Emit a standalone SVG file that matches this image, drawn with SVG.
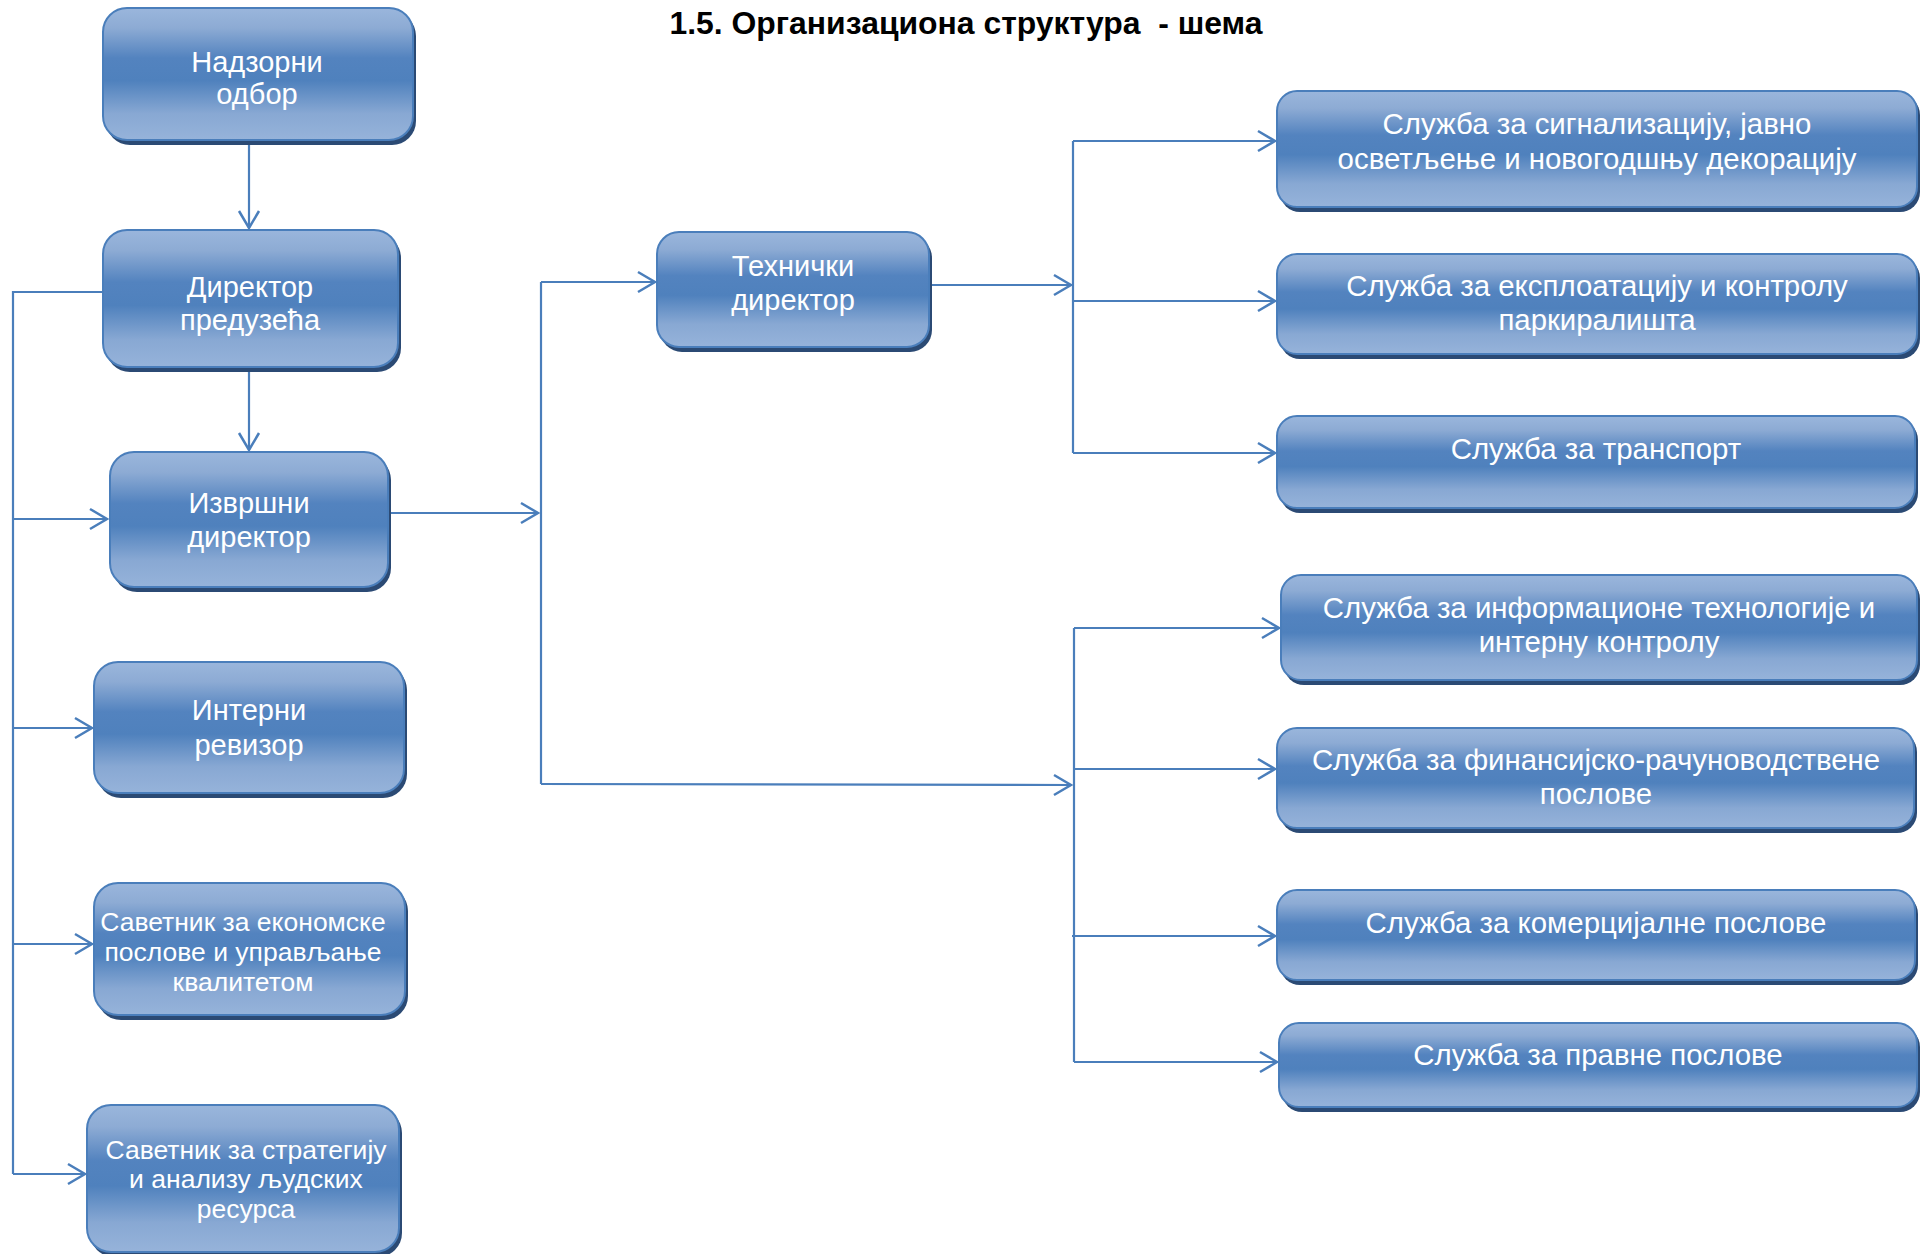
<svg xmlns="http://www.w3.org/2000/svg" width="1921" height="1254" viewBox="0 0 1921 1254">
<defs>
<linearGradient id="g" x1="0" y1="0" x2="0" y2="1">
<stop offset="0" stop-color="#9ab6dc"/>
<stop offset="0.15" stop-color="#8dabd4"/>
<stop offset="0.38" stop-color="#5383bf"/>
<stop offset="0.55" stop-color="#4f81bd"/>
<stop offset="0.8" stop-color="#88a8d3"/>
<stop offset="1" stop-color="#96b3da"/>
</linearGradient>
<marker id="arr" viewBox="-20 -12 22 24" refX="0" refY="0" markerWidth="22" markerHeight="24" markerUnits="userSpaceOnUse" orient="auto">
<path d="M-17,-10 L0,0 L-17,10" fill="none" stroke="#4a7ebb" stroke-width="2.5"/>
</marker>
<style>
.sh{fill:#2b4a74}
.bx{fill:url(#g);stroke:#4a7ebb;stroke-width:2}
.t{font-family:"Liberation Sans",Arial,sans-serif;fill:#ffffff;text-anchor:middle}
.l{font-size:29px}
.s{font-size:26.5px}
.r{font-size:29.4px}
.ttl{font-family:"Liberation Sans",Arial,sans-serif;font-weight:bold;font-size:31px;fill:#000;text-anchor:middle;white-space:pre}
.c{fill:none;stroke:#4a7ebb;stroke-width:2.2}
.a{marker-end:url(#arr)}
</style>
</defs>
<rect width="1921" height="1254" fill="#ffffff"/>
<text id="title" class="ttl" x="966" y="34" textLength="593" lengthAdjust="spacingAndGlyphs">1.5. Организациона структура  - шема</text>

<g id="connectors">
<path class="c a" d="M249,142 V228"/>
<path class="c a" d="M249,368 V450"/>
<path class="c" d="M103,292 H13 V1174"/>
<path class="c a" d="M13,519 H107"/>
<path class="c a" d="M13,728 H92"/>
<path class="c a" d="M13,944 H92"/>
<path class="c a" d="M13,1174 H85"/>
<path class="c a" d="M388,513 H538"/>
<path class="c" d="M541,282 V784"/>
<path class="c a" d="M541,282 H655"/>
<path class="c a" d="M541,784 L1071,785"/>
<path class="c a" d="M929,285 H1071"/>
<path class="c" d="M1073,141 V453"/>
<path class="c a" d="M1073,141 H1275"/>
<path class="c a" d="M1073,301 H1275"/>
<path class="c a" d="M1073,453 H1275"/>
<path class="c" d="M1074,628 V1062"/>
<path class="c a" d="M1074,628 H1279"/>
<path class="c a" d="M1074,769 H1275"/>
<path class="c a" d="M1072,936 H1275"/>
<path class="c a" d="M1074,1062 H1277"/>
</g>

<g id="nadzorni">
<rect class="sh" x="106" y="12" width="310" height="133" rx="24"/>
<rect class="bx" x="103" y="8" width="310" height="132" rx="24"/>
<text class="t l" x="257" y="72">Надзорни</text>
<text class="t l" x="257" y="104">одбор</text>
</g>

<g id="direktor">
<rect class="sh" x="106" y="234" width="295" height="138" rx="24"/>
<rect class="bx" x="103" y="230" width="295" height="137" rx="24"/>
<text class="t l" x="250" y="297">Директор</text>
<text class="t l" x="250" y="330">предузећа</text>
</g>

<g id="izvrsni">
<rect class="sh" x="113" y="456" width="278" height="136" rx="24"/>
<rect class="bx" x="110" y="452" width="278" height="135" rx="24"/>
<text class="t l" x="249" y="513">Извршни</text>
<text class="t l" x="249" y="547">директор</text>
</g>

<g id="interni">
<rect class="sh" x="97" y="666" width="310" height="132" rx="24"/>
<rect class="bx" x="94" y="662" width="310" height="131" rx="24"/>
<text class="t l" x="249" y="720">Интерни</text>
<text class="t l" x="249" y="755">ревизор</text>
</g>

<g id="savetnik-ekonomske">
<rect class="sh" x="97" y="887" width="311" height="133" rx="24"/>
<rect class="bx" x="94" y="883" width="311" height="132" rx="24"/>
<text class="t s" x="243" y="931">Саветник за економске</text>
<text class="t s" x="243" y="961">послове и управљање</text>
<text class="t s" x="243" y="991">квалитетом</text>
</g>

<g id="savetnik-strategija">
<rect class="sh" x="90" y="1109" width="312" height="148" rx="24"/>
<rect class="bx" x="87" y="1105" width="312" height="147" rx="24"/>
<text class="t s" x="246" y="1159">Саветник за стратегију</text>
<text class="t s" x="246" y="1188">и анализу људских</text>
<text class="t s" x="246" y="1218">ресурса</text>
</g>

<g id="tehnicki">
<rect class="sh" x="660" y="236" width="272" height="116" rx="22"/>
<rect class="bx" x="657" y="232" width="272" height="115" rx="22"/>
<text class="t l" x="793" y="276">Технички</text>
<text class="t l" x="793" y="310">директор</text>
</g>

<g id="sluzba-signalizacija">
<rect class="sh" x="1280" y="95" width="640" height="117" rx="20"/>
<rect class="bx" x="1277" y="91" width="640" height="116" rx="20"/>
<text class="t r" x="1597" y="134">Служба за сигнализацију, јавно</text>
<text class="t r" x="1597" y="169">осветљење и новогодшњу декорацију</text>
</g>

<g id="sluzba-eksploatacija">
<rect class="sh" x="1280" y="258" width="640" height="101" rx="20"/>
<rect class="bx" x="1277" y="254" width="640" height="100" rx="20"/>
<text class="t r" x="1597" y="296">Служба за експлоатацију и контролу</text>
<text class="t r" x="1597" y="330">паркиралишта</text>
</g>

<g id="sluzba-transport">
<rect class="sh" x="1280" y="420" width="638" height="93" rx="20"/>
<rect class="bx" x="1277" y="416" width="638" height="92" rx="20"/>
<text class="t r" x="1596" y="459">Служба за транспорт</text>
</g>

<g id="sluzba-it">
<rect class="sh" x="1284" y="579" width="636" height="106" rx="20"/>
<rect class="bx" x="1281" y="575" width="636" height="105" rx="20"/>
<text class="t r" x="1599" y="618">Служба за информационе технологије и</text>
<text class="t r" x="1599" y="652">интерну контролу</text>
</g>

<g id="sluzba-finansije">
<rect class="sh" x="1280" y="732" width="637" height="101" rx="20"/>
<rect class="bx" x="1277" y="728" width="637" height="100" rx="20"/>
<text class="t r" x="1596" y="770">Служба за финансијско-рачуноводствене</text>
<text class="t r" x="1596" y="804">послове</text>
</g>

<g id="sluzba-komercijalne">
<rect class="sh" x="1280" y="894" width="638" height="91" rx="20"/>
<rect class="bx" x="1277" y="890" width="638" height="90" rx="20"/>
<text class="t r" x="1596" y="933">Служба за комерцијалне послове</text>
</g>

<g id="sluzba-pravne">
<rect class="sh" x="1282" y="1027" width="638" height="85" rx="20"/>
<rect class="bx" x="1279" y="1023" width="638" height="84" rx="20"/>
<text class="t r" x="1598" y="1065">Служба за правне послове</text>
</g>
</svg>
